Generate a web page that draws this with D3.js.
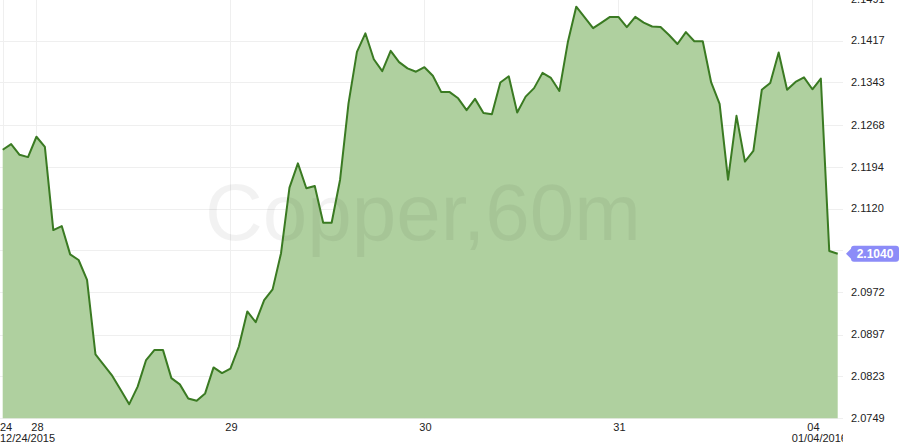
<!DOCTYPE html>
<html>
<head>
<meta charset="utf-8">
<script src="https://cdn.jsdelivr.net/npm/d3@7"></script>
<style>
  html, body { margin: 0; padding: 0; background: #fff; }
  svg { display: block; font-family: Arial, "Liberation Sans", sans-serif; }
</style>
</head>
<body>
<div id="chart"></div>
<script>
// Copper, 60m bars, close prices
const prices = [
  2.1224, 2.1234, 2.1215, 2.1211, 2.1247, 2.1229, 2.1082, 2.1089, 2.1039, 2.1029,
  2.0994, 2.0862, 2.0843, 2.0824, 2.0799, 2.0774, 2.0805, 2.0852, 2.0870, 2.0870,
  2.0820, 2.0809, 2.0784, 2.0780, 2.0793, 2.0839, 2.0829, 2.0837, 2.0876, 2.0938,
  2.0919, 2.0958, 2.0977, 2.1041, 2.1157, 2.1200, 2.1156, 2.1160, 2.1095, 2.1095,
  2.1171, 2.1306, 2.1397, 2.1430, 2.1384, 2.1363, 2.1399, 2.1379, 2.1368, 2.1362,
  2.1370, 2.1355, 2.1326, 2.1326, 2.1315, 2.1294, 2.1314, 2.1289, 2.1287, 2.1343,
  2.1354, 2.1290, 2.1318, 2.1333, 2.1360, 2.1351, 2.1328, 2.1414, 2.1477, 2.1458,
  2.1439, 2.1449, 2.1459, 2.1459, 2.1441, 2.1459, 2.1449, 2.1442, 2.1441, 2.1427,
  2.1411, 2.1432, 2.1416, 2.1416, 2.1343, 2.1305, 2.1171, 2.1284, 2.1203, 2.1222,
  2.1330, 2.1342, 2.1396, 2.1330, 2.1344, 2.1352, 2.1331, 2.1350, 2.1045, 2.1040
];
// bar index where each session starts
const dayIndex = [0, 4, 27, 50, 73, 96];
const dayLabels = ["24", "28", "29", "30", "31", "04"];
const dateLabels = [{ i: 0, text: "12/24/2015" }, { i: 96, text: "01/04/2016" }];
const yTicks = [2.0749, 2.0823, 2.0897, 2.0972, 2.1046, 2.1120, 2.1194, 2.1268, 2.1343, 2.1417, 2.1491];
const title = "Copper,60m";

const W = 900, H = 448;
const plotR = 843, plotB = 418.3;

const svg = d3.select("#chart").append("svg").attr("width", W).attr("height", H);

const x = d3.scaleLinear().domain([0, prices.length - 1]).range([2.7, 837.7]);
const y = d3.scaleLinear().domain([2.0749, 2.1491]).range([plotB, -1.2]);

svg.append("clipPath").attr("id", "plotclip")
  .append("rect").attr("x", 0).attr("y", 0).attr("width", plotR).attr("height", H);

// grid
svg.append("g").selectAll("line").data(yTicks).join("line")
  .attr("x1", 0).attr("x2", plotR)
  .attr("y1", (d) => Math.round(y(d)) + 0.5).attr("y2", (d) => Math.round(y(d)) + 0.5)
  .attr("stroke", "#efefef");
svg.append("g").selectAll("line").data(dayIndex).join("line")
  .attr("x1", (d) => Math.round(x(d)) + 0.5).attr("x2", (d) => Math.round(x(d)) + 0.5)
  .attr("y1", 0).attr("y2", plotB)
  .attr("stroke", "#efefef");

// area + line
const area = d3.area().x((d, i) => x(i)).y0(plotB).y1((d) => y(d));
const line = d3.line().x((d, i) => x(i)).y((d) => y(d));

svg.append("path").datum(prices).attr("d", area).attr("fill", "#afd09f");

svg.append("text")
  .attr("x", 423).attr("y", 240).attr("text-anchor", "middle")
  .style("font-size", "80px").attr("fill", "#000").attr("fill-opacity", 0.05)
  .text(title);

svg.append("path").datum(prices).attr("d", line)
  .attr("fill", "none").attr("stroke", "#3a7a22").attr("stroke-width", 2)
  .attr("stroke-linejoin", "round");

const last = prices[prices.length - 1];
const ty = y(last);

// y labels (the one under the price tag is hidden, as in the original)
svg.append("g").selectAll("text").data(yTicks.filter((d) => Math.abs(y(d) - ty) > 12)).join("text")
  .attr("x", 851).attr("y", (d) => y(d)).attr("dy", "0.35em")
  .style("font-size", "11px").attr("fill", "#222")
  .text((d) => d3.format(".4f")(d));

// x labels
const xl = svg.append("g").attr("clip-path", "url(#plotclip)");
xl.selectAll(".day").data(dayIndex).join("text").attr("class", "day")
  .attr("x", (d, k) => k === 0 ? 0 : x(d) + 1)
  .attr("text-anchor", (d, k) => k === 0 ? "start" : "middle")
  .attr("y", 431).style("font-size", "11px").attr("fill", "#222")
  .text((d, k) => dayLabels[k]);
xl.selectAll(".date").data(dateLabels).join("text").attr("class", "date")
  .attr("x", (d) => d.i === 0 ? 0 : x(d.i) + 7)
  .attr("text-anchor", (d) => d.i === 0 ? "start" : "middle")
  .attr("y", 442).style("font-size", "11px").attr("fill", "#222")
  .text((d) => d.text);

// last price tag
const tx = 846, tw = 53, th = 16, r = 3;
const tag = svg.append("g");
tag.append("path")
  .attr("d", `M${tx},${ty} L${tx + 5},${ty - 5} L${tx + 5},${ty - th / 2 + r} Q${tx + 5},${ty - th / 2} ${tx + 5 + r},${ty - th / 2}
    L${tx + tw - r},${ty - th / 2} Q${tx + tw},${ty - th / 2} ${tx + tw},${ty - th / 2 + r}
    L${tx + tw},${ty + th / 2 - r} Q${tx + tw},${ty + th / 2} ${tx + tw - r},${ty + th / 2}
    L${tx + 5 + r},${ty + th / 2} Q${tx + 5},${ty + th / 2} ${tx + 5},${ty + th / 2 - r}
    L${tx + 5},${ty + 5} Z`)
  .attr("fill", "#8c8cf8");
tag.append("text").attr("x", tx + 5 + (tw - 5) / 2).attr("y", ty).attr("dy", "0.36em")
  .attr("text-anchor", "middle").attr("fill", "#fff")
  .style("font-size", "12px").style("font-weight", "bold")
  .text(d3.format(".4f")(last));
</script>
</body>
</html>
